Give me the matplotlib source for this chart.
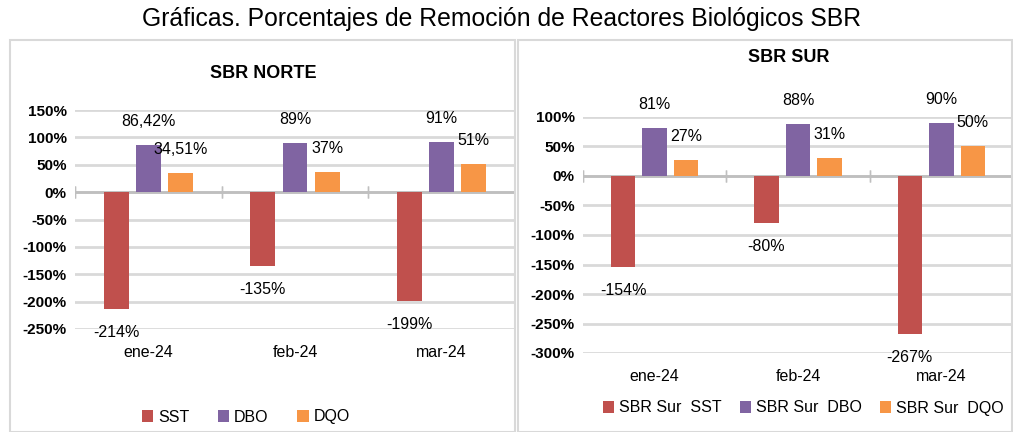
import numpy as np
import matplotlib
matplotlib.use("Agg")
import matplotlib.pyplot as plt
from matplotlib.patches import Rectangle

# ---------------- data ----------------
meses = ["ene-24", "feb-24", "mar-24"]

norte_sst = [-214, -135, -199]
norte_dbo = [86.42, 89, 91]
norte_dqo = [34.51, 37, 51]
norte_lbl_sst = ["-214%", "-135%", "-199%"]
norte_lbl_dbo = ["86,42%", "89%", "91%"]
norte_lbl_dqo = ["34,51%", "37%", "51%"]

sur_sst = [-154, -80, -267]
sur_dbo = [81, 88, 90]
sur_dqo = [27, 31, 50]
sur_lbl_sst = ["-154%", "-80%", "-267%"]
sur_lbl_dbo = ["81%", "88%", "90%"]
sur_lbl_dqo = ["27%", "31%", "50%"]

norte_leg = ["SST", "DBO", "DQO"]
sur_leg = ["SBR Sur  SST", "SBR Sur  DBO", "SBR Sur  DQO"]

c_sst = "#C0504D"
c_dbo = "#8064A2"
c_dqo = "#F79646"

plt.rcParams["font.family"] = ["Liberation Sans Narrow", "Liberation Sans", "DejaVu Sans"]

W, H = 1013, 432
fig = plt.figure(figsize=(W / 100, H / 100), dpi=100)


def fx(px):
    return px / W


def fy(py):
    return 1 - py / H


# panel borders
for x0, x1 in [(10, 515), (518, 1012)]:
    fig.patches.append(Rectangle((fx(x0), 0), fx(x1 - x0), fy(40), transform=fig.transFigure,
                                 fill=False, edgecolor="#d9d9d9", lw=1.5))

fig.text(fx(502), fy(19), "Gráficas. Porcentajes de Remoción de Reactores Biológicos SBR",
         ha="center", va="center", fontsize=17.8)


def panel(rect, ylim, ticks, sst, dbo, dqo, lsst, ldbo, ldqo, titulo, tpos, leg, legpos, colsp):
    ax = fig.add_axes(rect)
    x = np.arange(len(meses))
    w = 0.17
    ax.bar(x - 0.22, sst, w, color=c_sst, label=leg[0], zorder=3)
    ax.bar(x, dbo, w, color=c_dbo, label=leg[1], zorder=3)
    ax.bar(x + 0.22, dqo, w, color=c_dqo, label=leg[2], zorder=3)
    for xs, vals, lbls in [(x - 0.22, sst, lsst), (x, dbo, ldbo), (x + 0.22, dqo, ldqo)]:
        for xi, v, t in zip(xs, vals, lbls):
            off = 17 if v >= 0 else -17
            ax.annotate(t, (xi, v), xytext=(0, off), textcoords="offset points",
                        ha="center", va="center", fontsize=11.5, zorder=4)
    ax.set_xlim(-0.5, len(meses) - 0.5)
    ax.set_ylim(*ylim)
    ax.set_yticks(ticks)
    ax.set_yticklabels(["%d%%" % t for t in ticks], fontsize=11, fontweight="bold")
    ax.set_xticks([])
    for s in ax.spines.values():
        s.set_visible(False)
    ax.tick_params(axis="y", length=0, pad=6)
    ax.grid(axis="y", color="#d9d9d9", lw=2, zorder=0)
    ax.axhline(0, color="#bfbfbf", lw=2, zorder=2)
    for b in np.arange(len(meses) + 1) - 0.5:
        ax.plot([b, b], [0, 0], marker="|", markersize=9, color="#bfbfbf", zorder=2)
    for xi, m in zip(x, meses):
        ax.annotate(m, (xi, ylim[0]), xytext=(0, -17), textcoords="offset points",
                    ha="center", va="center", fontsize=11.5, annotation_clip=False)
    fig.text(fx(tpos[0]), fy(tpos[1]), titulo, ha="center", va="center",
             fontsize=13, fontweight="bold")
    fig.legend(handles=ax.containers, labels=leg, loc="center",
               bbox_to_anchor=(fx(legpos[0]), fy(legpos[1])),
               ncol=3, frameon=False, fontsize=11.5, handlelength=0.7, handleheight=0.7,
               handletextpad=0.3, columnspacing=colsp, borderpad=0, borderaxespad=0)
    return ax


panel([fx(75), fy(329), fx(515 - 75), fy(110) - fy(329)], (-250, 150), np.arange(-250, 151, 50),
      norte_sst, norte_dbo, norte_dqo, norte_lbl_sst, norte_lbl_dbo, norte_lbl_dqo,
      "SBR NORTE", (263, 73), norte_leg, (246, 417), 1.8)
panel([fx(583), fy(353), fx(1013 - 583), fy(117) - fy(353)], (-300, 100), np.arange(-300, 101, 50),
      sur_sst, sur_dbo, sur_dqo, sur_lbl_sst, sur_lbl_dbo, sur_lbl_dqo,
      "SBR SUR", (789, 57), sur_leg, (803, 408), 1.15)

fig.savefig("out.png", dpi=100)
